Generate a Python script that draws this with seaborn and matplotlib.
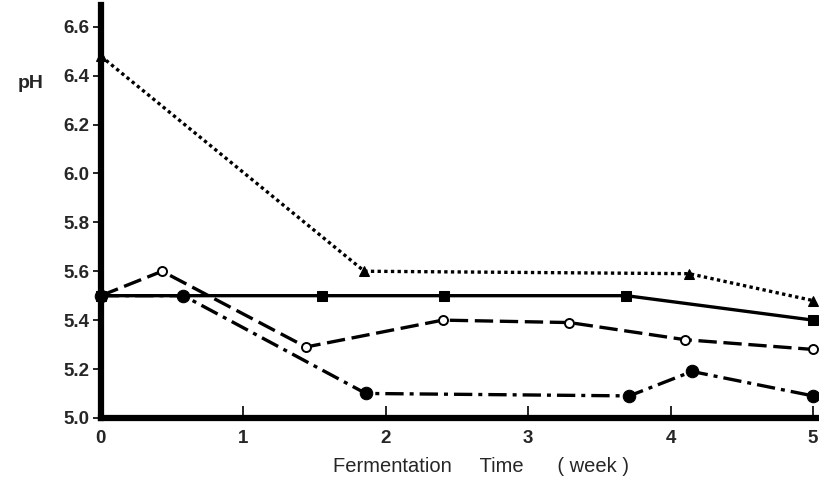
import matplotlib
matplotlib.use("Agg")
import matplotlib.pyplot as plt
import seaborn as sns
import pandas as pd

# Data
tri_x = [0.0, 1.85, 4.13, 5.0]
tri_y = [6.48, 5.60, 5.59, 5.48]

sq_x = [0.0, 1.55, 2.41, 3.69, 5.0]
sq_y = [5.50, 5.50, 5.50, 5.50, 5.40]

oc_x = [0.0, 0.43, 1.44, 2.40, 3.29, 4.10, 5.0]
oc_y = [5.50, 5.60, 5.29, 5.40, 5.39, 5.32, 5.28]

fc_x = [0.0, 0.58, 1.86, 3.71, 4.15, 5.0]
fc_y = [5.50, 5.50, 5.10, 5.09, 5.19, 5.09]

x_ticks = [0, 1, 2, 3, 4, 5]
y_ticks = [5.0, 5.2, 5.4, 5.6, 5.8, 6.0, 6.2, 6.4, 6.6]

sns.set_theme(style="white")
fam = ['Liberation Sans Narrow', 'Liberation Sans', 'DejaVu Sans']
plt.rcParams['font.family'] = fam

fig = plt.figure(figsize=(8.2, 4.82), dpi=100)
ax = fig.add_axes([0.123, 0.133, 0.872, 0.857])

series = [
    (tri_x, tri_y, dict(linestyle=(0, (1.0, 1.0)), marker='^', markersize=7,
                        markerfacecolor='black', linewidth=2.4)),
    (sq_x, sq_y, dict(linestyle='-', marker='s', markersize=7.5,
                      markerfacecolor='black', linewidth=2.4)),
    (oc_x, oc_y, dict(linestyle=(0, (5.5, 2.0)), marker='o', markersize=6.5,
                      markerfacecolor='white', markeredgewidth=1.4, linewidth=2.4)),
    (fc_x, fc_y, dict(linestyle=(0, (5.5, 1.8, 1.2, 1.8)), marker='o', markersize=9,
                      markerfacecolor='black', linewidth=2.4)),
]
for xs, ys, kw in series:
    df = pd.DataFrame({'week': xs, 'pH': ys})
    sns.lineplot(data=df, x='week', y='pH', ax=ax, sort=False, color='black',
                 markeredgecolor='black', clip_on=False, zorder=3, **kw)

ax.set_xlim(0, 5.02)
ax.set_ylim(5.0, 6.69)
ax.set_xticks(x_ticks)
ax.set_xticklabels([str(t) for t in x_ticks])
ax.set_yticks(y_ticks)
ax.set_yticklabels([f"{t:.1f}" for t in y_ticks])

for s in ['top', 'right']:
    ax.spines[s].set_visible(False)
ax.spines['left'].set_linewidth(4.5)
ax.spines['bottom'].set_linewidth(4.5)
ax.spines['left'].set_color('black')
ax.spines['bottom'].set_color('black')

ax.tick_params(axis='y', direction='out', length=6, width=1.2, color='black',
               labelsize=13.5, pad=2, left=True)
ax.tick_params(axis='x', direction='in', length=9, width=1.2, color='black',
               labelsize=13.5, pad=9, bottom=True)
for lab in ax.get_xticklabels() + ax.get_yticklabels():
    lab.set_fontweight('bold')
    lab.set_family(fam)

ax.set_xlabel('')
ax.set_ylabel('')
fig.text(0.022, 1 - 84 / 482, 'pH', fontsize=14, fontweight='bold',
         ha='left', va='center', family=fam)
fig.text(0.587, 1 - 466 / 482, 'Fermentation     Time      ( week )', fontsize=14.5,
         ha='center', va='center', family=fam)

fig.savefig('out.png', dpi=100, facecolor='white')
